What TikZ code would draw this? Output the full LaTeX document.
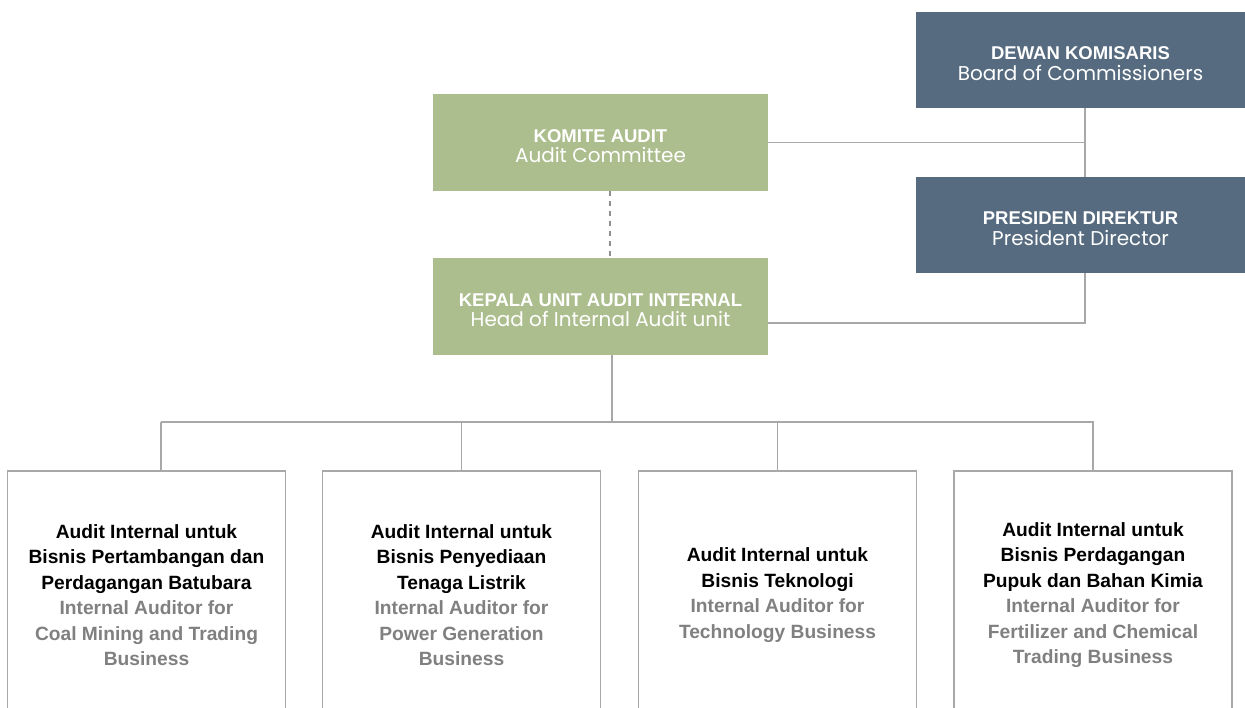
\documentclass[tikz,border=0pt]{standalone}
\usepackage{fontspec}
\setmainfont{Liberation Sans}
\newfontfamily\subfont[Scale=1.08]{Poppins}
\usepackage{tikz}
\usetikzlibrary{positioning,calc}
\definecolor{boardblue}{RGB}{86,107,127}
\definecolor{auditgreen}{RGB}{173,190,142}
\definecolor{linegray}{RGB}{168,168,168}
\definecolor{engray}{RGB}{128,128,128}
\newcommand{\boxlabel}[2]{\rule{0pt}{20pt}{\bfseries #1}\\{\subfont #2}}
\newcommand{\enline}[1]{\textcolor{engray}{#1}}

\begin{document}
\begin{tikzpicture}[x=1pt,y=-1pt,
  conn/.style={draw=linegray,line width=1.2pt},
  dashconn/.style={draw=linegray!85!black,line width=1.2pt,dash pattern=on 5pt off 5pt},
  bluebox/.style={fill=boardblue,text=white,minimum width=329pt,minimum height=96pt,align=center,inner sep=0pt,font=\fontsize{18.5}{20.5}\selectfont},
  greenbox/.style={fill=auditgreen,text=white,minimum width=335pt,minimum height=97pt,align=center,inner sep=0pt,font=\fontsize{18.5}{20.5}\selectfont},
  unitbox/.style={draw=linegray,line width=1.4pt,fill=white,minimum width=278pt,minimum height=248pt,align=center,inner sep=0pt,font=\fontsize{19.2}{25.5}\selectfont\bfseries}]
\useasboundingbox (0,0) rectangle (1245,708);

\node[bluebox] (dk) at (1080.5,60) {\boxlabel{DEWAN KOMISARIS}{Board of Commissioners}};
\node[bluebox] (pd) at (1080.5,225) {\boxlabel{PRESIDEN DIREKTUR}{President Director}};
\node[greenbox] (ka) at (600.5,142.5) {\boxlabel{KOMITE AUDIT}{Audit Committee}};
\node[greenbox] (kua) at (600.5,306.5) {\boxlabel{KEPALA UNIT AUDIT INTERNAL}{Head of Internal Audit unit}};

\node[unitbox] (b1) at (146.5,595) {Audit Internal untuk\\Bisnis Pertambangan dan\\Perdagangan Batubara\\\enline{Internal Auditor for}\\\enline{Coal Mining and Trading}\\\enline{Business}};
\node[unitbox] (b2) at (461.5,595) {Audit Internal untuk\\Bisnis Penyediaan\\Tenaga Listrik\\\enline{Internal Auditor for}\\\enline{Power Generation}\\\enline{Business}};
\node[unitbox] (b3) at (777.5,595) {Audit Internal untuk\\Bisnis Teknologi\\\enline{Internal Auditor for}\\\enline{Technology Business}};
\node[unitbox] (b4) at (1093,595) {Audit Internal untuk\\Bisnis Perdagangan\\Pupuk dan Bahan Kimia\\\enline{Internal Auditor for}\\\enline{Fertilizer and Chemical}\\\enline{Trading Business}};

\coordinate (spine) at (1085,0);
\coordinate (bus) at (612,422);
\coordinate (busl) at (161,422);
\coordinate (busr) at (1094,422);

\draw[conn] (dk.south -| spine) -- (pd.north -| spine);
\draw[conn] (ka.east) -- (ka.east -| spine);
\draw[conn] (pd.south -| spine) |- ([yshift=-16.5pt]kua.east);
\draw[dashconn] ([xshift=9.5pt]ka.south) -- ([xshift=9.5pt]kua.north);
\draw[conn] ([xshift=11.5pt]kua.south) -- (bus);
\draw[conn] (busl) -- (busr);
\draw[conn] (busl) -- (busl |- b1.north);
\foreach \b in {b2,b3,b4}
  \draw[conn] (\b.north |- bus) -- (\b.north);
\end{tikzpicture}
\end{document}
